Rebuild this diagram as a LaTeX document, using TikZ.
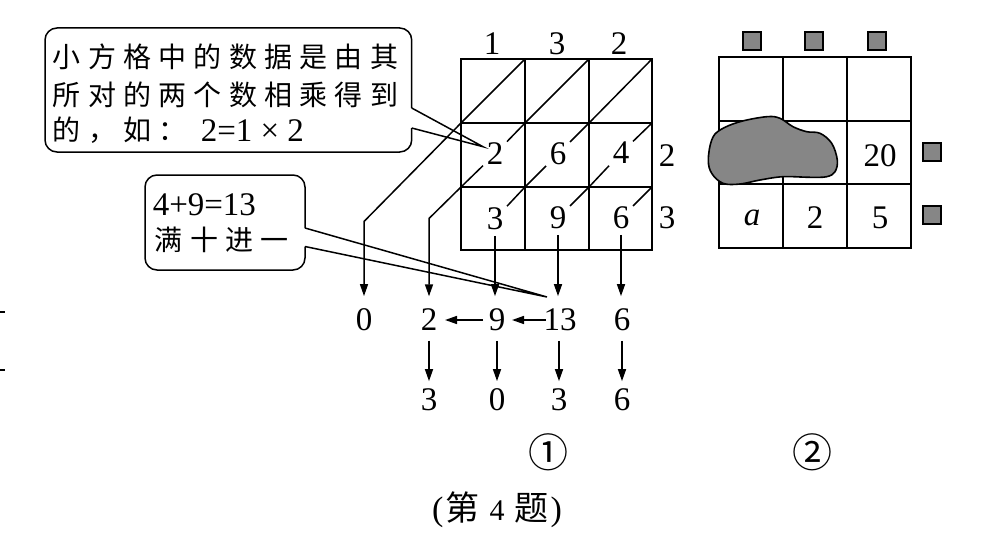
\documentclass[tikz,border=0pt]{standalone}
\usepackage{fontspec}
\setmainfont{Liberation Serif}
\newfontfamily\cjk{Noto Sans CJK SC}
\newfontfamily\cjkls{Noto Sans CJK SC}[LetterSpace=26]
\usetikzlibrary{arrows.meta}
\begin{document}
\begin{tikzpicture}[x=1pt,y=-1pt, line width=1.5pt, line join=miter,
  num/.style={inner sep=0pt, font=\fontsize{33}{37}\selectfont},
  celldigit/.style={inner sep=3pt, font=\fontsize{33}{37}\selectfont},
  arr/.style={-{Triangle[length=12pt,width=8pt]}},
  note/.style={inner sep=0pt, anchor=west, font=\fontsize{28}{32}\cjkls},
  notenum/.style={inner sep=0pt, anchor=west, font=\fontsize{33}{37}\selectfont},
  sq/.style={draw, line width=1.2pt, fill=gray!95, minimum size=18pt, inner sep=0pt},
  gridline/.style={line width=1.8pt},
]
\useasboundingbox (0,0) rectangle (988,543);
\fill[white] (0,0) rectangle (988,543);

% scan ticks at left edge
\draw[line width=2pt] (0,311.7) -- (5,311.7);
\draw[line width=2pt] (0,370) -- (5,370);

% ---------- grid 1 ----------
\coordinate (P00) at (461,59);  \coordinate (P10) at (525,59);
\coordinate (P20) at (589,59);  \coordinate (P30) at (652,59);
\coordinate (P01) at (461,123); \coordinate (P11) at (525,123);
\coordinate (P21) at (589,123); \coordinate (P31) at (652,123);
\coordinate (P02) at (461,187); \coordinate (P12) at (525,187);
\coordinate (P22) at (589,187); \coordinate (P32) at (652,187);
\coordinate (P03) at (461,250); \coordinate (P33) at (652,250);

\draw[gridline] (P00) rectangle (P33);
\draw[gridline] (525,59) -- (525,250);
\draw[gridline] (589,59) -- (589,250);
\draw[gridline] (461,123) -- (652,123);
\draw[gridline] (461,187) -- (652,187);

% labels around grid 1
\node[num] (t1) at (492,44) {1};
\node[num] (t3) at (557,44) {3};
\node[num] (t2) at (619,44) {2};
\node[num] (r2) at (667,156) {2};
\node[num] (r3) at (667,218) {3};

% digits inside grid 1
\node[celldigit] (c2) at (495,154) {2};
\node[celldigit] (c6) at (558,154) {6};
\node[celldigit] (c4) at (621,153) {4};
\node[celldigit] (d3) at (495,219) {3};
\node[celldigit] (d9) at (558,218) {9};
\node[celldigit] (d6) at (621,218) {6};

% sums
\node[num] (s0) at (364,320) {0};
\node[num] (s2) at (429,320) {2};
\node[num] (s9) at (497,320) {9};
\node[num] (s13) at (560,320) {13};
\node[num] (s6) at (622,320) {6};
% result
\node[num] (b3) at (429,400) {3};
\node[num] (b0) at (497,400) {0};
\node[num] (b3b) at (559,400) {3};
\node[num] (b6) at (622,400) {6};

\coordinate (k0) at (364,221.5);
\coordinate (k2) at (429,218.5);

% diagonals
\draw[arr, shorten >=12pt] (P10) -- (P01) -- (k0) -- (s0);
\draw (P20) -- (P11) -- (c2);
\draw[arr, shorten >=12pt] (c2) -- (P02) -- (k2) -- (s2);
\draw (P30) -- (P21) -- (c6);
\draw (c6) -- (P12) -- (d3);
\draw[arr, shorten <=2pt, shorten >=12pt] (d3.south) -- (d3.south |- s9.north);
\draw (P31) -- (c4);
\draw (c4) -- (P22) -- (d9);
\draw[arr, shorten <=2pt, shorten >=12pt] (d9.south) -- (d9.south |- s13.north);
\draw (P32) -- (d6);
\draw[arr, shorten <=2pt, shorten >=12pt] (d6.south) -- (d6.south |- s6.north);

% carries
\draw[arr, shorten <=-3pt, shorten >=6pt] (s13) -- (s9);
\draw[arr, shorten <=5pt, shorten >=7pt] (s9) -- (s2);
\draw[arr, shorten <=9pt, shorten >=7pt] (s2) -- (b3);
\draw[arr, shorten <=9pt, shorten >=7pt] (s9) -- (b0);
\draw[arr, shorten <=9pt, shorten >=7pt] (b3b.north |- s13.south) -- (b3b.north);
\draw[arr, shorten <=9pt, shorten >=7pt] (s6) -- (b6);

% ---------- callout 1 ----------
\coordinate (tip1) at (483,146.7);
\draw[rounded corners=12pt] (411.7,108) |- (45,28) |- (411.7,152) -- (411.7,128);
\draw (411.7,108) -- (tip1) -- (411.7,128);
\node[note] (n1a) at (52,57) {小方格中的数据是由其};
\node[note] (n1b) at (52,95) {所对的两个数相乘得到};
\node[note] (n1c) at (52,130) {的，如：};
\node[notenum] (n1d) at (200,131) {2=1 × 2};

% ---------- callout 2 ----------
\coordinate (tip2) at (547,297);
\draw[rounded corners=12pt] (305,228) |- (145,175) |- (305,270) -- (305,246.5);
\draw (305,228) -- (tip2) -- (305,246.5);
\node[notenum] (n2a) at (152,205) {4+9=13};
\node[note] (n2b) at (154,240) {满十进一};

% ---------- grid 2 ----------
\draw[gridline] (719,57) rectangle (911,248);
\draw[gridline] (783,57) -- (783,248);
\draw[gridline] (847,57) -- (847,248);
\draw[gridline] (719,121) -- (911,121);
\draw[gridline] (719,184) -- (911,184);

\node[sq] (q1) at (752,41) {};
\node[sq] (q2) at (814,41) {};
\node[sq] (q3) at (877,41) {};
\node[sq] (q4) at (932,152) {};
\node[sq] (q5) at (932,215) {};

\node[num] (v20) at (880,156) {20};
\node[num] (va) at (752,218) {\itshape a};
\node[num] (v2) at (815,218) {2};
\node[num] (v5) at (880,218) {5};

% blob
\draw[line width=1.6pt, fill=gray!95] plot[smooth cycle, tension=0.6] coordinates {
 (711.7,140) (720,130) (740,121.7) (766.7,116.7) (780,118.3) (793,126.7)
 (806.7,131.7) (820,133.3) (831.7,143.3) (837.3,160) (835,171.7) (826.7,176.7)
 (810,177.3) (783,176.7) (760,180) (740,184) (723,183.3) (711.7,173.3) (708.3,160)};

% ---------- captions ----------
\node[inner sep=0pt, font=\fontsize{40}{44}\cjk] (lab1) at (548,452) {①};
\node[inner sep=0pt, font=\fontsize{40}{44}\cjk] (lab2) at (812,452) {②};
\node[inner sep=0pt] (cap) at (497,510) {\fontsize{34}{38}\selectfont (\hspace{2pt}{\fontsize{34}{38}\cjk 第}\hspace{10pt}{\fontsize{30}{34}\selectfont 4}\hspace{10pt}{\fontsize{34}{38}\cjk 题}\hspace{2pt})};
\end{tikzpicture}
\end{document}
